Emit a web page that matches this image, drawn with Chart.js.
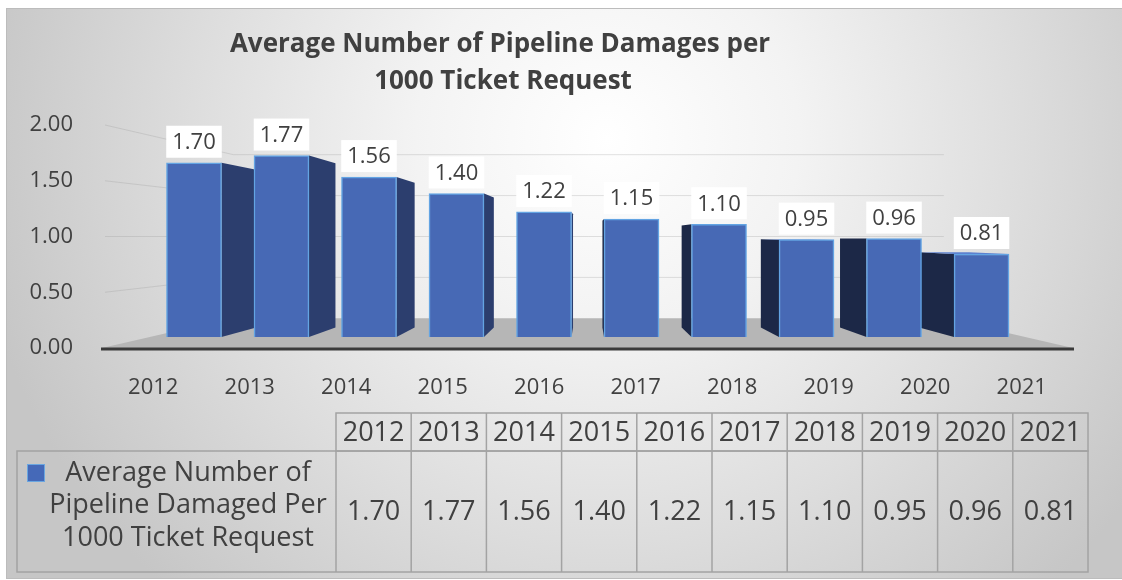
<!DOCTYPE html>
<html>
<head>
<meta charset="utf-8">
<script src="https://cdn.jsdelivr.net/npm/chart.js@4.4.1/dist/chart.umd.min.js"></script>
<style>
  html, body { margin: 0; padding: 0; background: #fff; }
  #wrap { position: absolute; left: 0; top: 0; width: 1122px; height: 580px; overflow: hidden; }
  #bg {
    position: absolute; left: 6px; top: 8px; width: 1130px; height: 569px;
    border: 1px solid #bcbcbc;
    background: radial-gradient(ellipse 640px 620px at 600px 130px, #ffffff 0%, #f3f3f3 30%, #dddddd 65%, #c6c6c6 100%);
  }
  canvas { position: absolute; left: 0; top: 0; }
</style>
</head>
<body>
<div id="wrap">
  <div id="bg"></div>
  <canvas id="c" width="1122" height="580" style="width:1122px;height:580px"></canvas>
</div>
<script>
// ── Datos ─────────────────────────────────────────────
var YEARS = ['2012', '2013', '2014', '2015', '2016', '2017', '2018', '2019', '2020', '2021'];
var DAMAGES = [1.70, 1.77, 1.56, 1.40, 1.22, 1.15, 1.10, 0.95, 0.96, 0.81];
var Y_TICKS = [0, 0.5, 1, 1.5, 2];
var TITLE_LINES = ['Average Number of Pipeline Damages per', '1000 Ticket Request'];
var SERIES_LINES = ['Average Number of', 'Pipeline Damaged Per', '1000 Ticket Request'];

// ── Estilo ───────────────────────────────────────────
var TXT = '#404040';
var FONT = "'Open Sans', sans-serif";
var FLOOR_D = 0.266;   // profundidad del piso hacia el punto de fuga
var BAR_D = 0.095;     // profundidad de cada barra
var TBL = { left: 17, split: 336, right: 1088, top: 413, mid: 451, bottom: 572 };

Chart.defaults.font.family = FONT;
Chart.defaults.color = TXT;

function fmt(v) { return Number(v).toFixed(2); }

// ── Plugin: piso, grilla en perspectiva, caras laterales, etiquetas, tabla ──
var depth3d = {
  id: 'depth3d',
  beforeDatasetsDraw: function (chart) {
    var ctx = chart.ctx, ca = chart.chartArea, ys = chart.scales.y;
    var vpx = (ca.left + ca.right) / 2, vpy = ys.getPixelForValue(1);
    var y0 = ys.getPixelForValue(0);
    function toward(x, y, f) { return [x + f * (vpx - x), y + f * (vpy - y)]; }

    ctx.save();
    // piso
    var fl = ca.left - 3, fr = ca.right + 3;
    var bl = toward(fl, y0, FLOOR_D), br = toward(fr, y0, FLOOR_D);
    ctx.fillStyle = '#b6b6b6';
    ctx.beginPath();
    ctx.moveTo(fl, y0); ctx.lineTo(bl[0], bl[1]); ctx.lineTo(br[0], br[1]); ctx.lineTo(fr, y0);
    ctx.closePath(); ctx.fill();

    // grilla: pared izquierda + pared de fondo
    ctx.strokeStyle = 'rgba(150,150,150,0.28)';
    ctx.lineWidth = 1;
    ys.ticks.forEach(function (t) {
      if (t.value === 0) return;
      var py = ys.getPixelForValue(t.value);
      var b = toward(ca.left, py, FLOOR_D);
      ctx.beginPath();
      ctx.moveTo(ca.left, py); ctx.lineTo(b[0], b[1]); ctx.lineTo(br[0], b[1]);
      ctx.stroke();
    });

    // caras laterales / superiores de las barras
    chart.getDatasetMeta(0).data.forEach(function (bar) {
      var p = bar.getProps(['x', 'y', 'base', 'width'], true);
      var l = p.x - p.width / 2, r = p.x + p.width / 2, t = p.y, b = p.base;
      var ex = null, col = null;
      if (r <= vpx) { ex = r; col = '#2c3e6e'; }
      else if (l >= vpx) { ex = l; col = '#1c2847'; }
      if (ex !== null) {
        var a1 = toward(ex, t, BAR_D), a2 = toward(ex, b, BAR_D);
        ctx.fillStyle = col;
        ctx.beginPath();
        ctx.moveTo(ex, t); ctx.lineTo(a1[0], a1[1]); ctx.lineTo(a2[0], a2[1]); ctx.lineTo(ex, b);
        ctx.closePath(); ctx.fill();
      }
      if (t > vpy) {
        var tl = toward(l, t, BAR_D), tr = toward(r, t, BAR_D);
        ctx.fillStyle = '#5b80cf';
        ctx.beginPath();
        ctx.moveTo(l, t); ctx.lineTo(r, t); ctx.lineTo(tr[0], tr[1]); ctx.lineTo(tl[0], tl[1]);
        ctx.closePath(); ctx.fill();
      }
    });
    ctx.restore();
  },

  afterDatasetsDraw: function (chart) {
    var ctx = chart.ctx;
    ctx.save();
    ctx.font = '22px ' + FONT;
    ctx.textAlign = 'center';
    ctx.textBaseline = 'middle';
    chart.getDatasetMeta(0).data.forEach(function (bar, i) {
      var p = bar.getProps(['x', 'y'], true);
      var s = fmt(DAMAGES[i]);
      var w = ctx.measureText(s).width + 12;
      var cy = p.y - 21;
      ctx.fillStyle = '#ffffff';
      ctx.fillRect(p.x - w / 2, cy - 16, w, 32);
      ctx.fillStyle = TXT;
      ctx.fillText(s, p.x, cy + 1);
    });
    ctx.restore();
  },

  afterDraw: function (chart) {
    var ctx = chart.ctx, ca = chart.chartArea, ys = chart.scales.y;
    var y0 = ys.getPixelForValue(0);
    ctx.save();

    // línea del eje
    ctx.strokeStyle = '#3a3a3a';
    ctx.lineWidth = 3;
    ctx.beginPath(); ctx.moveTo(ca.left - 4, y0 + 1); ctx.lineTo(ca.right + 4, y0 + 1); ctx.stroke();

    // título
    ctx.fillStyle = TXT;
    ctx.textAlign = 'center';
    ctx.textBaseline = 'middle';
    ctx.font = 'bold 26px ' + FONT;
    ctx.fillText(TITLE_LINES[0], 500, 45);
    ctx.fillText(TITLE_LINES[1], 503, 82);

    // tabla de datos
    var cw = (TBL.right - TBL.split) / YEARS.length;
    ctx.strokeStyle = '#a3a3a3';
    ctx.lineWidth = 1.5;
    ctx.strokeRect(TBL.split, TBL.top, TBL.right - TBL.split, TBL.mid - TBL.top);
    ctx.strokeRect(TBL.left, TBL.mid, TBL.right - TBL.left, TBL.bottom - TBL.mid);
    for (var i = 1; i < YEARS.length; i++) {
      var gx = TBL.split + i * cw;
      ctx.beginPath(); ctx.moveTo(gx, TBL.top); ctx.lineTo(gx, TBL.bottom); ctx.stroke();
    }
    ctx.beginPath(); ctx.moveTo(TBL.split, TBL.mid); ctx.lineTo(TBL.split, TBL.bottom); ctx.stroke();

    ctx.font = '27px ' + FONT;
    ctx.fillStyle = TXT;
    YEARS.forEach(function (y, i) {
      var cx = TBL.split + (i + 0.5) * cw;
      ctx.fillText(y, cx, (TBL.top + TBL.mid) / 2 + 1);
      ctx.fillText(fmt(DAMAGES[i]), cx, (TBL.mid + TBL.bottom) / 2 + 1);
    });

    // leyenda dentro de la tabla
    SERIES_LINES.forEach(function (s, i) {
      ctx.fillText(s, 188, 473 + i * 32.5);
    });
    ctx.fillStyle = '#4569b8';
    ctx.fillRect(27, 464, 18, 18);
    ctx.strokeStyle = '#6aa6e0';
    ctx.lineWidth = 1;
    ctx.strokeRect(27.5, 464.5, 17, 17);

    ctx.restore();
  }
};

new Chart(document.getElementById('c'), {
  type: 'bar',
  data: {
    labels: YEARS,
    datasets: [{
      label: SERIES_LINES.join(' '),
      data: DAMAGES.map(function (v, i) { return { x: i, y: v }; }),
      xAxisID: 'xb',
      yAxisID: 'yb',
      backgroundColor: '#4769b5',
      borderColor: '#63a4e3',
      borderWidth: { left: 1.5, right: 1.5, top: 1.5, bottom: 0 },
      borderSkipped: false,
      barThickness: 55
    }]
  },
  options: {
    responsive: false,
    animation: false,
    layout: { padding: { left: 0, right: 52, top: 125, bottom: 0 } },
    plugins: { legend: { display: false }, tooltip: { enabled: false }, title: { display: false } },
    scales: {
      x: {
        type: 'category',
        position: 'bottom',
        offset: true,
        grid: { display: false },
        border: { display: false },
        ticks: { color: TXT, font: { size: 22 }, padding: 19, maxRotation: 0, autoSkip: false },
        afterFit: function (s) { s.height = 232; }
      },
      y: {
        position: 'left',
        min: 0, max: 2,
        grid: { display: false },
        border: { display: false },
        afterBuildTicks: function (s) { s.ticks = Y_TICKS.map(function (v) { return { value: v }; }); },
        ticks: { color: TXT, font: { size: 22 }, padding: 24, callback: function (v) { return fmt(v); } },
        afterFit: function (s) { s.width = 105; }
      },
      // ejes ocultos de la cara frontal de las barras (más atrás en perspectiva)
      xb: { type: 'linear', display: false, offset: false, min: -1.017, max: 10.011 },
      yb: { type: 'linear', display: false, min: -0.107, max: 2.068 }
    }
  },
  plugins: [depth3d]
});
</script>
</body>
</html>
